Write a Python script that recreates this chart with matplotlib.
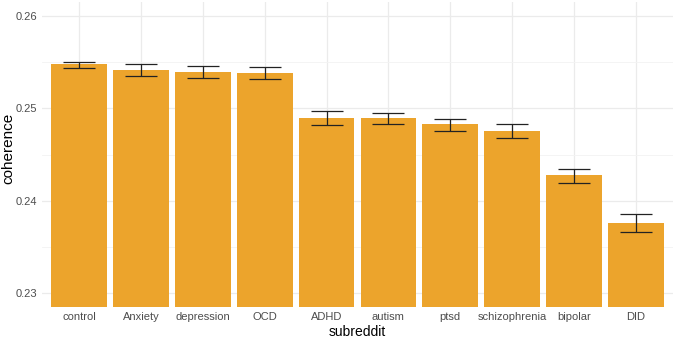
import numpy as np
import matplotlib.pyplot as plt

plt.rcParams['font.family'] = ['Liberation Sans', 'DejaVu Sans']

# valori
subreddits = ["control", "Anxiety", "depression", "OCD", "ADHD",
              "autism", "ptsd", "schizophrenia", "bipolar", "DID"]
coherence = [0.25474, 0.25412, 0.25398, 0.25383, 0.24892,
             0.24895, 0.24827, 0.24751, 0.24275, 0.23762]
err_low = [0.25441, 0.25350, 0.25328, 0.25322, 0.24820,
           0.24830, 0.24759, 0.24679, 0.24196, 0.23665]
err_high = [0.25506, 0.25474, 0.25455, 0.25448, 0.24968,
            0.24954, 0.24889, 0.24827, 0.24347, 0.23860]
yticks = [0.23, 0.24, 0.25, 0.26]

x = np.arange(len(subreddits))
coh = np.array(coherence)
yerr = [coh - np.array(err_low), np.array(err_high) - coh]

fig = plt.figure(figsize=(6.75, 3.38), dpi=100)
ax = fig.add_axes([42 / 675, 31 / 338, 631 / 675, 305 / 338])

ax.bar(x, coh, width=0.9, color='#ECA42C', zorder=2)
ax.errorbar(x, coh, yerr=yerr, fmt='none', ecolor='#222222',
            elinewidth=0.9, capsize=11.5, capthick=0.9, zorder=3)

ax.set_xlim(-0.6, len(subreddits) - 0.4)
ax.set_ylim(0.2285, 0.2615)
ax.set_xticks(x)
ax.set_xticklabels(subreddits)
ax.set_yticks(yticks)
ax.set_yticklabels([f"{v:.2f}" for v in yticks])
ax.set_yticks([0.235, 0.245, 0.255], minor=True)

ax.grid(True, which='major', color='#EBEBEB', linewidth=0.9, zorder=0)
ax.grid(True, which='minor', axis='y', color='#F3F3F3', linewidth=0.6, zorder=0)
ax.set_axisbelow(True)
for s in ax.spines.values():
    s.set_visible(False)
ax.tick_params(which='both', length=0, labelsize=8, labelcolor='#4D4D4D', pad=3.5)

ax.set_xlabel("subreddit", fontsize=10, color='black')
ax.set_ylabel("coherence", fontsize=11, color='black')
ax.xaxis.label.set_va('center')
ax.yaxis.label.set_va('center')
ax.xaxis.set_label_coords(0.5, -25 / 305)
ax.yaxis.set_label_coords(-34 / 631, 0.52)

fig.savefig("out.png", dpi=100)
